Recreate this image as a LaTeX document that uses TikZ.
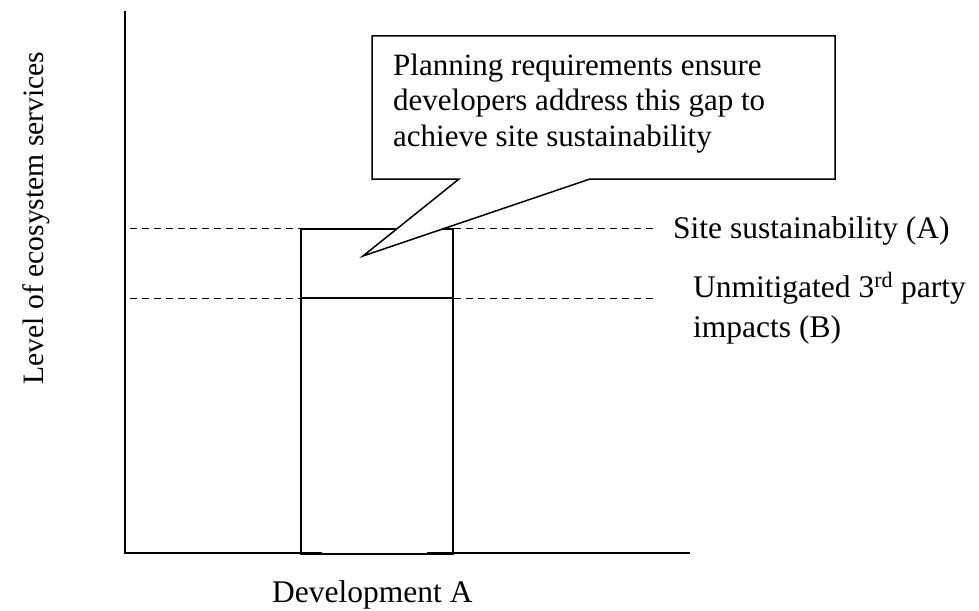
\documentclass[tikz,border=0pt]{standalone}
\usepackage{fontspec}
\setmainfont{Liberation Serif}
\begin{document}
\begin{tikzpicture}[x=1pt,y=-1pt,
  axisline/.style={line width=1.8pt},
  barline/.style={line width=1.8pt},
  levelline/.style={line width=0.9pt, dash pattern=on 7pt off 5pt},
  lbl/.style={font=\fontsize{31.5}{40}\selectfont, inner sep=0pt, align=left},
  calltext/.style={font=\fontsize{31}{35.5}\selectfont, inner sep=0pt, align=left},
  calloutshape/.style={line width=1.5pt, fill=white, line join=miter}
]
\useasboundingbox (0,0) rectangle (979,610);
% axes
\coordinate (ytop) at (125,11);
\coordinate (origin) at (125,553);
\coordinate (xend) at (690,553);
\draw[axisline] (ytop) -- (origin) -- (xend);
% dashed levels
\coordinate (aL) at (130,228); \coordinate (aR) at (655,228);
\coordinate (bL) at (130,298); \coordinate (bR) at (658,298);
\draw[levelline] (aL) -- (aR);
\draw[levelline] (bL) -- (bR);
% bar
\node[draw, barline, fill=white, minimum width=152pt, minimum height=325pt, inner sep=0pt, anchor=north west] (bar) at (300,228) {};
\coordinate (bmL) at (300,298); \coordinate (bmR) at (452,298);
\draw[line width=2.8pt] (bmL) -- (bmR);
\coordinate (t1a) at (300,553); \coordinate (t1b) at (322,553);
\coordinate (t2a) at (427,553); \coordinate (t2b) at (452,553);
\draw[line width=3pt] (t1a) -- (t1b);
\draw[line width=3pt] (t2a) -- (t2b);
% callout
\coordinate (c1) at (372,36);
\coordinate (c2) at (835,36);
\coordinate (c3) at (835,179);
\coordinate (c4) at (590,179);
\coordinate (tip) at (363,256);
\coordinate (c5) at (459,179);
\coordinate (c6) at (372,179);
\draw[calloutshape] (c1) -- (c2) -- (c3) -- (c4) -- (tip) -- (c5) -- (c6) -- cycle;
\node[calltext, anchor=base west] (note) at (393,146) {Planning requirements ensure\\developers address this gap to\\achieve site sustainability};
% labels
\node[lbl, anchor=base west] (labA) at (673,238) {Site sustainability (A)};
\node[lbl, anchor=base west] (labB) at (693,337) {Unmitigated 3\textsuperscript{rd} party\\impacts (B)};
\node[lbl, anchor=base west] (labX) at (272,602) {Development A};
\node[lbl, font=\fontsize{29.6}{36}\selectfont, anchor=base, rotate=90] (labY) at (43,218) {Level of ecosystem services};
\end{tikzpicture}
\end{document}
